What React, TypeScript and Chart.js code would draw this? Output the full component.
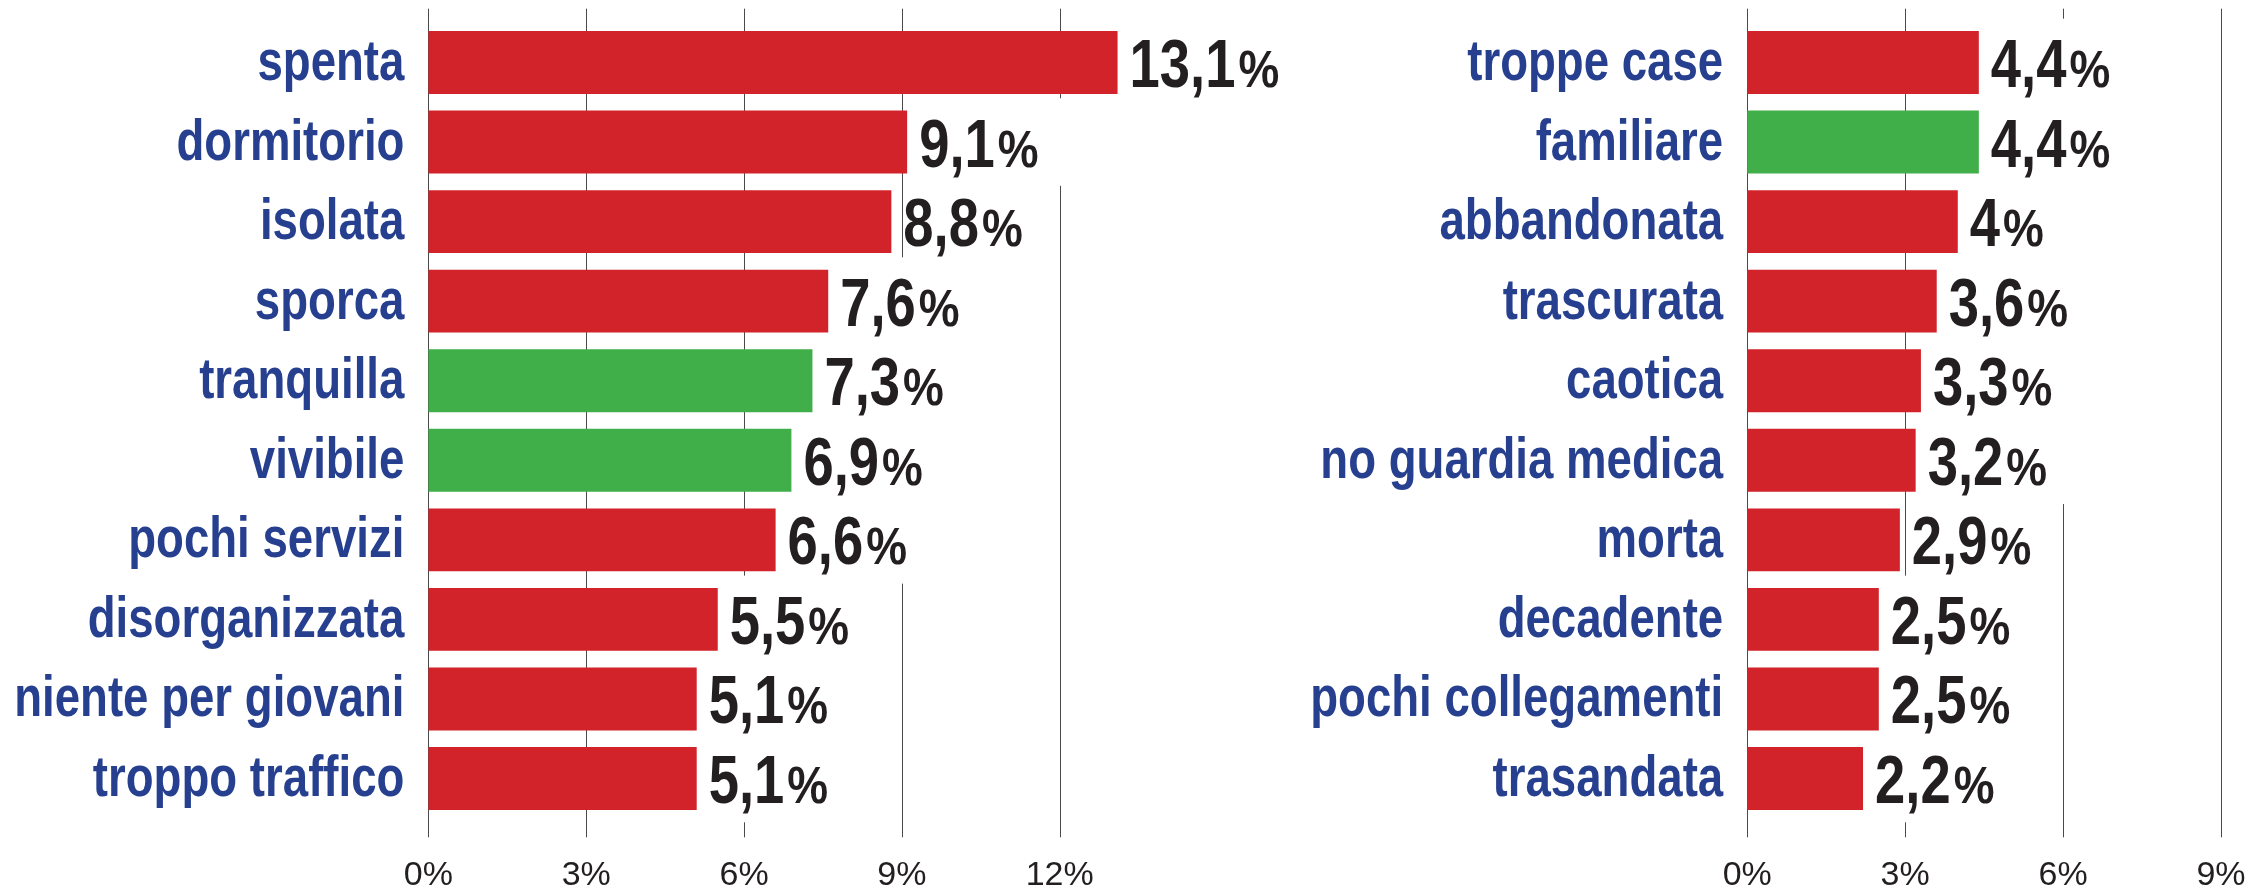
import React, { useEffect, useRef } from "react";
import { Chart, registerables } from "chart.js";

Chart.register(...registerables);

// ---------- data ----------
const LEFT_CATEGORIES = [
  "spenta",
  "dormitorio",
  "isolata",
  "sporca",
  "tranquilla",
  "vivibile",
  "pochi servizi",
  "disorganizzata",
  "niente per giovani",
  "troppo traffico",
];
const LEFT_VALUES = [13.1, 9.1, 8.8, 7.6, 7.3, 6.9, 6.6, 5.5, 5.1, 5.1];
const LEFT_TONES = ["neg", "neg", "neg", "neg", "pos", "pos", "neg", "neg", "neg", "neg"];
const LEFT_TICKS = [0, 3, 6, 9, 12];

const RIGHT_CATEGORIES = [
  "troppe case",
  "familiare",
  "abbandonata",
  "trascurata",
  "caotica",
  "no guardia medica",
  "morta",
  "decadente",
  "pochi collegamenti",
  "trasandata",
];
const RIGHT_VALUES = [4.4, 4.4, 4, 3.6, 3.3, 3.2, 2.9, 2.5, 2.5, 2.2];
const RIGHT_TONES = ["neg", "pos", "neg", "neg", "neg", "neg", "neg", "neg", "neg", "neg"];
const RIGHT_TICKS = [0, 3, 6, 9];

// ---------- style ----------
const FONT = "'Liberation Sans', Arial, Helvetica, sans-serif";
const RED = "#d2232a";
const GREEN = "#40ae49";
const BLUE = "#26408f";
const INK = "#231f20";
const GRID = "#4a4a4a";
const CONDENSE = 0.8;
const PCT_CONDENSE = 0.9;

const fmt = (v: number) => String(v).replace(".", ",");

function drawScaled(ctx: CanvasRenderingContext2D, text: string, x: number, y: number, sx: number) {
  ctx.save();
  ctx.translate(x, y);
  ctx.scale(sx, 1);
  ctx.fillText(text, 0, 0);
  ctx.restore();
}

function valueLayout(ctx: CanvasRenderingContext2D, xScale: any, v: number) {
  const num = fmt(v);
  ctx.font = `bold 68px ${FONT}`;
  const numW = ctx.measureText(num).width * CONDENSE;
  ctx.font = `bold 51px ${FONT}`;
  const pctW = ctx.measureText("%").width * PCT_CONDENSE;
  const start = xScale.getPixelForValue(v) + 12;
  const pctX = start + numW + 3;
  return { num, start, pctX, end: pctX + pctW };
}

function makePlugin(categories: string[], values: number[], ticks: number[]) {
  return {
    id: "customDraw",
    beforeDatasetsDraw(chart: any) {
      const { ctx, chartArea } = chart;
      const x = chart.scales.x;
      const y = chart.scales.y;
      ctx.save();
      ctx.strokeStyle = GRID;
      ctx.lineWidth = 1;
      const top = chartArea.top - 14;
      const bottom = chartArea.bottom + 19;
      ticks.forEach((t) => {
        const px = Math.round(x.getPixelForValue(t)) + 0.5;
        ctx.beginPath();
        ctx.moveTo(px, top);
        ctx.lineTo(px, bottom);
        ctx.stroke();
      });
      const pitch = (chartArea.bottom - chartArea.top) / categories.length;
      ctx.fillStyle = "#ffffff";
      values.forEach((v, i) => {
        const lay = valueLayout(ctx, x, v);
        const cy = y.getPixelForValue(i);
        ctx.fillRect(lay.start + 3, cy - pitch / 2 - 4, lay.end + 30 - lay.start - 3, pitch + 8);
      });
      ctx.restore();
    },
    afterDatasetsDraw(chart: any) {
      const { ctx, chartArea } = chart;
      const x = chart.scales.x;
      const y = chart.scales.y;
      ctx.save();
      ctx.textAlign = "left";
      ctx.textBaseline = "alphabetic";
      values.forEach((v, i) => {
        const cy = y.getPixelForValue(i);
        const lay = valueLayout(ctx, x, v);
        ctx.fillStyle = INK;
        ctx.font = `bold 68px ${FONT}`;
        drawScaled(ctx, lay.num, lay.start, cy + 24.5, CONDENSE);
        ctx.font = `bold 51px ${FONT}`;
        drawScaled(ctx, "%", lay.pctX, cy + 24.5, PCT_CONDENSE);
      });
      ctx.fillStyle = BLUE;
      ctx.font = `bold 57px ${FONT}`;
      const labelRight = chartArea.left - 24;
      categories.forEach((c, i) => {
        const cy = y.getPixelForValue(i);
        const w = ctx.measureText(c).width * CONDENSE;
        drawScaled(ctx, c, labelRight - w, cy + 17.5, CONDENSE);
      });
      ctx.fillStyle = INK;
      ctx.font = `34px ${FONT}`;
      ctx.textAlign = "center";
      ticks.forEach((t) => {
        ctx.fillText(`${t}%`, x.getPixelForValue(t), chartArea.bottom + 66.7);
      });
      ctx.restore();
    },
  };
}

type PanelProps = {
  categories: string[];
  values: number[];
  tones: string[];
  ticks: number[];
  left: number;
  width: number;
  padLeft: number;
  padRight: number;
};

function Panel({ categories, values, tones, ticks, left, width, padLeft, padRight }: PanelProps) {
  const ref = useRef<HTMLCanvasElement | null>(null);
  useEffect(() => {
    if (!ref.current) return;
    const chart = new Chart(ref.current, {
      type: "bar",
      data: {
        labels: categories,
        datasets: [
          {
            data: values,
            backgroundColor: tones.map((t) => (t === "pos" ? GREEN : RED)),
            borderWidth: 0,
            barPercentage: 0.79,
            categoryPercentage: 1,
            clip: false,
          },
        ],
      },
      options: {
        indexAxis: "y",
        responsive: false,
        animation: false,
        layout: { padding: { left: padLeft, right: padRight, top: 22.7, bottom: 68.7 } },
        plugins: { legend: { display: false }, tooltip: { enabled: false } },
        scales: {
          x: { display: false, min: 0, max: ticks[ticks.length - 1] },
          y: { display: false },
        },
      },
      plugins: [makePlugin(categories, values, ticks)],
    } as any);
    return () => chart.destroy();
  }, []);
  return (
    <canvas
      ref={ref}
      width={width}
      height={887}
      style={{ position: "absolute", left, top: 0, width, height: 887, display: "block" }}
    />
  );
}

export default function App() {
  return (
    <div
      style={{
        position: "fixed",
        left: 0,
        top: 0,
        width: 2246,
        height: 887,
        background: "#ffffff",
        overflow: "hidden",
      }}
    >
      <Panel
        categories={LEFT_CATEGORIES}
        values={LEFT_VALUES}
        tones={LEFT_TONES}
        ticks={LEFT_TICKS}
        left={0}
        width={1305}
        padLeft={428.4}
        padRight={245.3}
      />
      <Panel
        categories={RIGHT_CATEGORIES}
        values={RIGHT_VALUES}
        tones={RIGHT_TONES}
        ticks={RIGHT_TICKS}
        left={1305}
        width={941}
        padLeft={442.2}
        padRight={25}
      />
    </div>
  );
}
